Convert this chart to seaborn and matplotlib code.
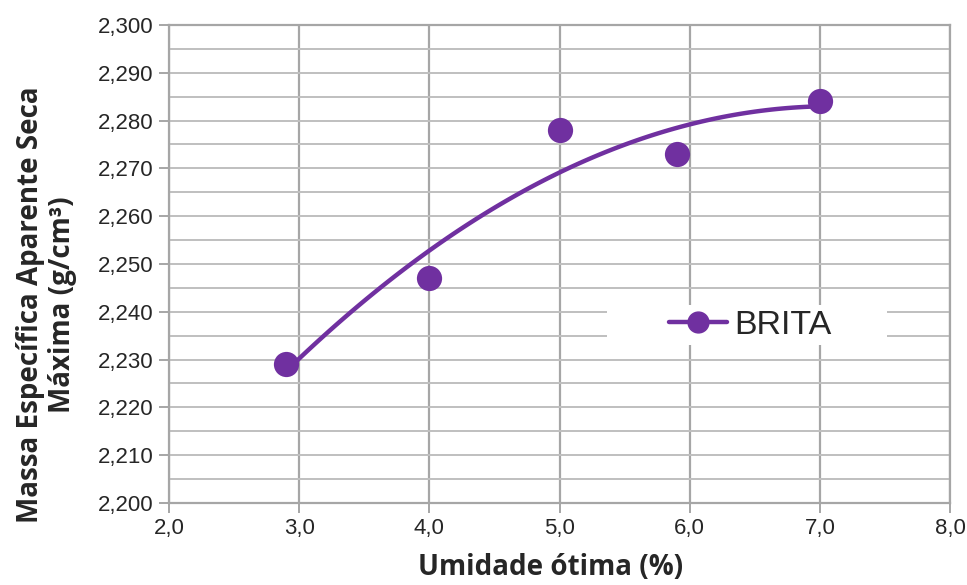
import matplotlib
matplotlib.use('Agg')
import matplotlib.pyplot as plt
import numpy as np
import pandas as pd
import seaborn as sns
from matplotlib.lines import Line2D
from matplotlib.patches import Rectangle
from matplotlib.ticker import MultipleLocator, FuncFormatter

# data
umidade = [2.9, 4.0, 5.0, 5.9, 7.0]
massa = [2.229, 2.247, 2.278, 2.273, 2.284]
serie = 'BRITA'
cor = '#7030A0'

df = pd.DataFrame({'umidade': umidade, 'massa': massa})

sns.set_style('white')
plt.rcParams['font.family'] = ['Liberation Sans', 'DejaVu Sans']

fig = plt.figure(figsize=(9.67, 5.85), dpi=100)
ax = fig.add_axes([0.1748, 0.1402, 0.8076, 0.8171])

# polynomial trendline (2nd order) plus markers
sns.regplot(data=df, x='umidade', y='massa', order=2, ci=None, truncate=True,
            color=cor, ax=ax,
            scatter_kws={'s': 330, 'alpha': 1, 'linewidths': 0, 'zorder': 4},
            line_kws={'lw': 3.2, 'zorder': 3})

ax.set_xlim(2.0, 8.0)
ax.set_ylim(2.200, 2.300)
ax.xaxis.set_major_locator(MultipleLocator(1.0))
ax.yaxis.set_major_locator(MultipleLocator(0.010))
ax.yaxis.set_minor_locator(MultipleLocator(0.005))
ax.xaxis.set_major_formatter(FuncFormatter(lambda v, p: '{:.1f}'.format(v).replace('.', ',')))
ax.yaxis.set_major_formatter(FuncFormatter(lambda v, p: '{:.3f}'.format(v).replace('.', ',')))

ax.grid(True, which='major', axis='x', color='#A6A6A6', lw=1.6)
ax.grid(True, which='both', axis='y', color='#BFBFBF', lw=1.4)
ax.set_axisbelow(True)
for s in ax.spines.values():
    s.set_color('#A6A6A6')
    s.set_linewidth(1.6)

ax.tick_params(axis='both', which='major', direction='out', length=7, width=1.4,
               color='#A6A6A6', labelsize=16, labelcolor='#262626', pad=4)
ax.tick_params(axis='y', which='minor', length=0)
ax.tick_params(left=True, bottom=True)

ax.set_xlabel('Umidade ótima (%)', fontsize=20, fontweight='bold',
              family=['Open Sans', 'DejaVu Sans'])
ax.set_ylabel('Massa Específica Aparente Seca\nMáxima (g/cm³)', fontsize=20,
              fontweight='bold', family=['Open Sans', 'DejaVu Sans'],
              linespacing=1.15)
ax.xaxis.set_label_coords(0.489, -0.105)
ax.yaxis.set_label_coords(-0.118, 0.414)

# white box behind the legend, wider than the default frame
ax.add_patch(Rectangle((0.561, 0.331), 0.358, 0.083, transform=ax.transAxes,
                       facecolor='white', edgecolor='none', zorder=2.5))
handle = Line2D([], [], color=cor, lw=3.2, marker='o', markersize=15)
leg = ax.legend([handle], [serie], loc='center', bbox_to_anchor=(0.744, 0.372),
                fontsize=24.5, frameon=False, handlelength=1.7,
                handletextpad=0.2, borderpad=0.3, borderaxespad=0)

fig.savefig('out.png', dpi=100)
